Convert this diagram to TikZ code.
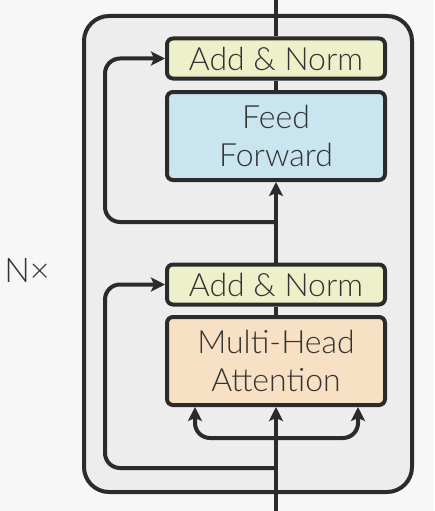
\documentclass[tikz,border=0pt]{standalone}
\usepackage{fontspec}
\setmainfont{Lato}[UprightFont={* Light}]
\usetikzlibrary{arrows.meta}

\definecolor{bgpage}{HTML}{F7F7F7}
\definecolor{bglayer}{HTML}{EDEDED}
\definecolor{ink}{HTML}{2B2B2B}
\definecolor{textgray}{HTML}{333333}
\definecolor{addfill}{HTML}{EEF0C9}
\definecolor{fffill}{HTML}{C8E5F0}
\definecolor{attfill}{HTML}{F8E0C4}

\tikzset{
  sublayer/.style={draw=ink, line width=4pt, rounded corners=6pt, minimum width=218pt,
    text=textgray, align=center, font=\fontsize{32}{38}\selectfont, inner sep=0pt},
  addnorm/.style={sublayer, fill=addfill, minimum height=40pt},
  bigbox/.style={sublayer, minimum height=88pt},
  flow/.style={draw=ink, line width=4pt},
  res/.style={flow, rounded corners=15pt, -{Stealth[length=14pt,width=14pt,inset=3pt]}},
}

\begin{document}
\begin{tikzpicture}[x=1pt, y=-1pt]

\useasboundingbox [fill=bgpage] (0,0) rectangle (434,511);

\node [draw=ink, fill=bglayer, line width=4pt, rounded corners=25pt,
  minimum width=328pt, minimum height=476pt] (layer) at (248,254) {};

\node [addnorm] (add2) at (276,58.5) {Add \& Norm};
\node [bigbox, fill=fffill] (ff) at (276,136) {Feed\\Forward};
\node [addnorm] (add1) at (276,284.5) {Add \& Norm};
\node [bigbox, fill=attfill] (mha) at (276,361) {Multi-Head\\Attention};

\node [text=textgray, font=\fontsize{34}{38}\selectfont] (nx) at (27,270) {N×};

\coordinate (in) at (276,511);
\coordinate (out) at (276,0);
\coordinate (skip1) at (276,468);
\coordinate (skip2) at (276,222);
\coordinate (fork) at (276,438);

\draw [flow] (add2.north) -- (out); %add2-out
\draw [flow] (ff.north) -- (add2.south); %ff-add2
\draw [flow] (mha.north) -- (add1.south); %mha-add1

\begin{scope}[res]
\draw (in) -- (mha.south); %in-mha
\draw (add1.north) -- (ff.south); %add1-ff
\draw (fork) -| ([xshift=-81pt]mha.south); %fork-mha k
\draw (fork) -| ([xshift=82pt]mha.south); %fork-mha v
\draw (skip1) -| ([xshift=-60pt]add1.west) -- (add1.west); %in-add1
\draw (skip2) -| ([xshift=-60pt]add2.west) -- (add2.west); %add1-add2
\end{scope}

\end{tikzpicture}
\end{document}
